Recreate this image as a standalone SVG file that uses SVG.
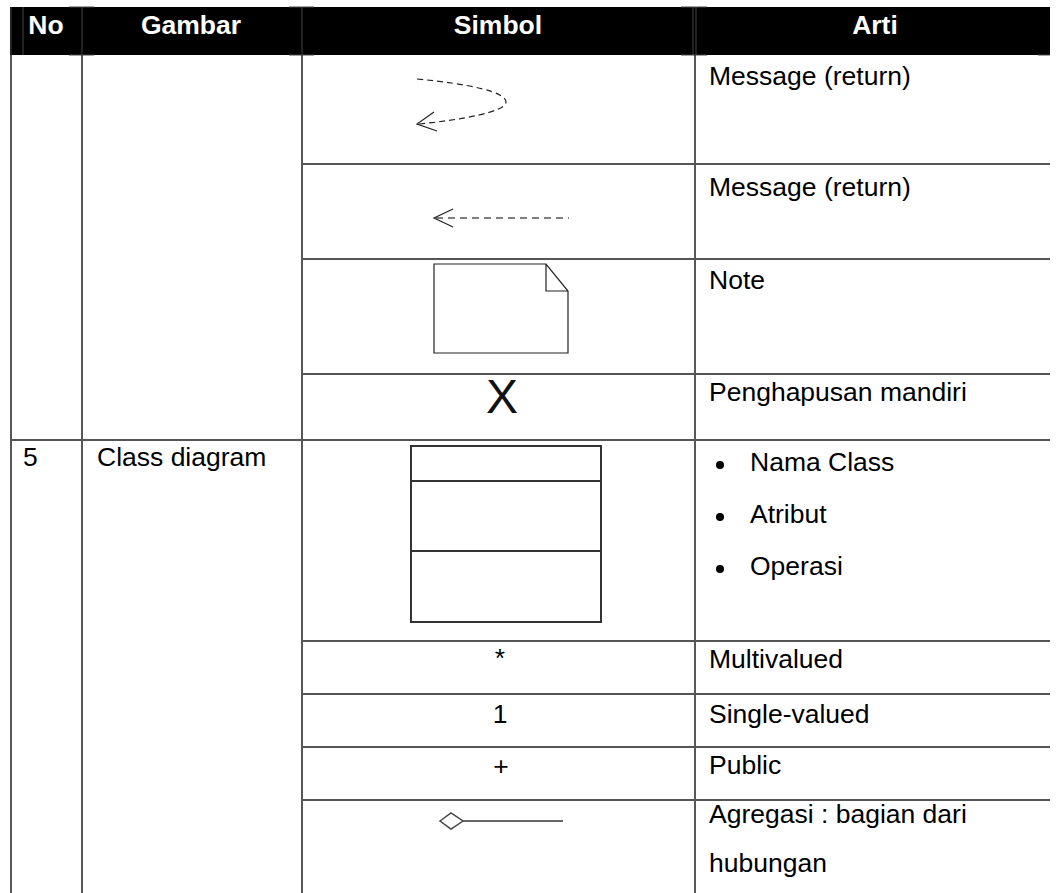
<svg xmlns="http://www.w3.org/2000/svg" width="1062" height="893" viewBox="0 0 1062 893">
<style>
  .t { font-family: "Liberation Sans", Arial, sans-serif; font-size: 26.5px; fill: #000; }
  .h { font-family: "Liberation Sans", Arial, sans-serif; font-size: 26.5px; font-weight: bold; fill: #fff; }
  .v { stroke: #222; stroke-width: 1.5; fill: none; }
  .hl { stroke: #555; stroke-width: 2; fill: none; }
  .hs { stroke: #444; stroke-width: 1; fill: none; }
  .sym { stroke: #222; stroke-width: 1.2; fill: none; }
</style>
<rect width="1062" height="893" fill="#fff"/>
<g id="header">
  <rect x="10" y="7" width="1040" height="48" fill="#000"/>
  <path class="hs" d="M11,7V55 M23,7V55 M82,7V55 M69,7H94 M69,55H94 M302,7V55 M289,7H314 M289,55H314 M693,7V55 M696,7V55 M681,7H707 M681,55H707 M1038,55H1050"/>
  <text class="h" x="46" y="34" text-anchor="middle">No</text>
  <text class="h" x="191" y="34" text-anchor="middle">Gambar</text>
  <text class="h" x="498" y="34" text-anchor="middle">Simbol</text>
  <text class="h" x="875" y="34" text-anchor="middle">Arti</text>
</g>
<g id="grid">
  <path class="v" d="M11,55V893 M82,55V893 M302,55V893 M695,55V893"/>
  <path class="hl" d="M302,164H1050 M302,259H1050 M302,374H1050 M11,440H1050 M302,641H1050 M302,694H1050 M302,747H1050 M302,800H1050"/>
</g>
<g id="row-return-curve">
  <path class="sym" stroke-dasharray="6,4" d="M417,79 C470,84 506,92 506,102 C506,112 460,120 419,124"/>
  <path class="sym" d="M434,112 L417,124 L437,131"/>
  <text class="t" x="709" y="85">Message (return)</text>
</g>
<g id="row-return-line">
  <path stroke="#555" stroke-width="1.5" fill="none" stroke-dasharray="7,5" d="M436,218H569"/>
  <path class="sym" d="M453,209 L434,218 L453,227"/>
  <text class="t" x="709" y="196">Message (return)</text>
</g>
<g id="row-note">
  <path class="sym" d="M434,264H546L568,291V353H434Z M546,264V291H568"/>
  <text class="t" x="709" y="289">Note</text>
</g>
<g id="row-destroy">
  <text x="502" y="413" text-anchor="middle" font-family="Liberation Sans, Arial, sans-serif" font-size="48" fill="#111">X</text>
  <text class="t" x="709" y="401">Penghapusan mandiri</text>
</g>
<g id="row-class">
  <text class="t" x="23" y="466">5</text>
  <text class="t" x="97" y="466">Class diagram</text>
  <rect x="411" y="446" width="190" height="176" fill="none" stroke="#333" stroke-width="2"/>
  <path stroke="#333" stroke-width="2" d="M411,481H601 M411,551H601"/>
  <circle cx="720" cy="465" r="4" fill="#000"/>
  <text class="t" x="750" y="471">Nama Class</text>
  <circle cx="720" cy="517" r="4" fill="#000"/>
  <text class="t" x="750" y="523">Atribut</text>
  <circle cx="720" cy="569" r="4" fill="#000"/>
  <text class="t" x="750" y="575">Operasi</text>
</g>
<g id="row-multi">
  <text class="t" x="500" y="667" text-anchor="middle">*</text>
  <text class="t" x="709" y="668">Multivalued</text>
</g>
<g id="row-single">
  <text class="t" x="500" y="723" text-anchor="middle">1</text>
  <text class="t" x="709" y="723">Single-valued</text>
</g>
<g id="row-public">
  <text class="t" x="501" y="775" text-anchor="middle">+</text>
  <text class="t" x="709" y="774">Public</text>
</g>
<g id="row-aggregation">
  <path fill="#fff" stroke="#444" stroke-width="1.5" d="M440,821 L451,813 L463,821 L451,829 Z"/>
  <path stroke="#666" stroke-width="2" d="M463,821H563"/>
  <text class="t" x="709" y="823">Agregasi : bagian dari</text>
  <text class="t" x="709" y="872">hubungan</text>
</g>
</svg>
